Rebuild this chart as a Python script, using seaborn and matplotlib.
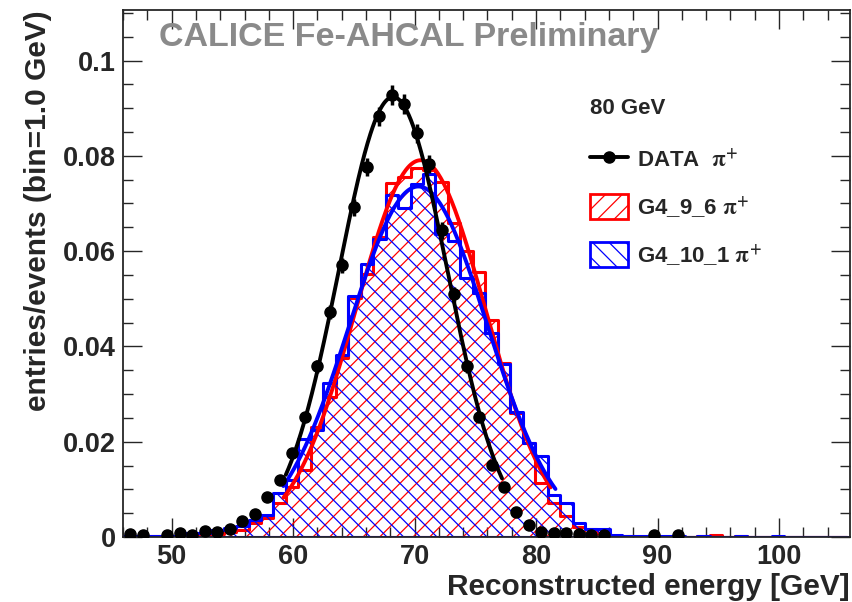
import numpy as np
import pandas as pd
import seaborn as sns
import matplotlib.pyplot as plt
from matplotlib.lines import Line2D
from matplotlib.patches import Patch
from matplotlib.ticker import MultipleLocator, FuncFormatter

# Histogram binning of the reconstructed energy (GeV)
first_edge = 46.07
bin_width = 1.026
n_bins = 58

# DATA pi+ at 80 GeV, fraction of events per bin (nan = empty bin)
data_frac = [0.0006, 0.0004, np.nan, 0.0004, 0.0008, 0.0004, 0.0013, 0.0010, 0.0017, 0.0034,
             0.0048, 0.0084, 0.0119, 0.0176, 0.0252, 0.0358, 0.0472, 0.0570, 0.0692, 0.0776,
             0.0883, 0.0927, 0.0908, 0.0847, 0.0783, 0.0644, 0.0509, 0.0358, 0.0252, 0.0151,
             0.0105, 0.0052, 0.0025, 0.0010, 0.0008, 0.0008, 0.0006, 0.0004, 0.0004, np.nan,
             np.nan, np.nan, 0.0004, np.nan, 0.0004]
data_err = [0.0002, 0.0002, np.nan, 0.0002, 0.0002, 0.0002, 0.0003, 0.0002, 0.0003, 0.0004,
            0.0005, 0.0006, 0.0008, 0.0009, 0.0011, 0.0013, 0.0015, 0.0016, 0.0018, 0.0019,
            0.0020, 0.0021, 0.0021, 0.0020, 0.0019, 0.0018, 0.0016, 0.0013, 0.0011, 0.0009,
            0.0007, 0.0005, 0.0003, 0.0002, 0.0002, 0.0002, 0.0002, 0.0002, 0.0002, np.nan,
            np.nan, np.nan, 0.0002, np.nan, 0.0002]

# Geant4 simulations
g4_9_6 = [0.0002, 0.0002, 0.0002, 0.0002, 0.0002, 0.0004, 0.0005, 0.0006, 0.0010, 0.0015,
          0.0029, 0.0040, 0.0071, 0.0105, 0.0140, 0.0231, 0.0294, 0.0375, 0.0501, 0.0551,
          0.0630, 0.0742, 0.0755, 0.0774, 0.0770, 0.0744, 0.0660, 0.0600, 0.0556, 0.0455,
          0.0365, 0.0260, 0.0197, 0.0113, 0.0072, 0.0044, 0.0021, 0.0017, 0.0008, 0.0002,
          0.0002, 0.0001, 0.0002, 0.0001, 0.0001, 0.0001, 0.0002, 0.0004, 0.0001, 0.0003,
          0.0001, 0.0001, 0.0001, 0.0001, 0.0001, 0.0001, 0.0001, 0.0001]
g4_10_1 = [0.0003, 0.0003, 0.0003, 0.0003, 0.0003, 0.0009, 0.0009, 0.0015, 0.0018, 0.0023,
           0.0035, 0.0046, 0.0092, 0.0119, 0.0205, 0.0224, 0.0323, 0.0382, 0.0505, 0.0573,
           0.0625, 0.0718, 0.0690, 0.0740, 0.0762, 0.0635, 0.0622, 0.0543, 0.0512, 0.0428,
           0.0362, 0.0262, 0.0197, 0.0170, 0.0088, 0.0071, 0.0030, 0.0017, 0.0016, 0.0004,
           0.0003, 0.0002, 0.0003, 0.0002, 0.0002, 0.0001, 0.0002, 0.0001, 0.0001, 0.0002,
           0.0001, 0.0001, 0.0003, 0.0001, 0.0001, 0.0001, 0.0001, 0.0001]

# Gaussian fit ranges (GeV)
data_fit_range = (59.4, 77.2)
g4_9_6_fit_range = (59.2, 81.2)
g4_10_1_fit_range = (59.2, 81.6)


def gaus_fit(x, y, lo, hi):
    # fit a gaussian through log(y) with a weighted parabola
    sel = (x >= lo) & (x <= hi) & (y > 0)
    a, b, c = np.polyfit(x[sel], np.log(y[sel]), 2, w=np.sqrt(y[sel]))
    xs = np.linspace(lo, hi, 300)
    return xs, np.exp(a * xs ** 2 + b * xs + c)


edges = first_edge + bin_width * np.arange(n_bins + 1)
centers = edges[:-1] + bin_width / 2

mc = pd.DataFrame({'energy': centers, 'g4_9_6': g4_9_6, 'g4_10_1': g4_10_1})
data = pd.DataFrame({'energy': centers[:len(data_frac)], 'frac': data_frac, 'err': data_err}).dropna()

sns.set_style('ticks')
plt.rcParams['font.family'] = ['Liberation Sans', 'DejaVu Sans']
plt.rcParams['font.weight'] = 'bold'
plt.rcParams['axes.labelweight'] = 'bold'
plt.rcParams['mathtext.fontset'] = 'stix'
plt.rcParams['hatch.linewidth'] = 0.9

fig = plt.figure(figsize=(8.52, 6.02), dpi=100)
ax = fig.add_axes([0.1444, 0.108, 0.8533, 0.8754])

hist_range = (first_edge, first_edge + n_bins * bin_width)
with plt.rc_context({'hatch.color': 'red'}):
    sns.histplot(data=mc, x='energy', weights='g4_9_6', binwidth=bin_width, binrange=hist_range,
                 element='step', fill=True, color='red', facecolor='none', edgecolor='red',
                 hatch='//', linewidth=2.2, ax=ax)
with plt.rc_context({'hatch.color': 'blue'}):
    sns.histplot(data=mc, x='energy', weights='g4_10_1', binwidth=bin_width, binrange=hist_range,
                 element='step', fill=True, color='blue', facecolor='none', edgecolor='blue',
                 hatch='\\\\', linewidth=2.2, ax=ax)

x = mc['energy'].to_numpy()
for col, rng, color in [('g4_9_6', g4_9_6_fit_range, 'red'), ('g4_10_1', g4_10_1_fit_range, 'blue')]:
    xs, ys = gaus_fit(x, mc[col].to_numpy(), *rng)
    sns.lineplot(x=xs, y=ys, color=color, linewidth=2.8, ax=ax)

xs, ys = gaus_fit(data['energy'].to_numpy(), data['frac'].to_numpy(), *data_fit_range)
sns.lineplot(x=xs, y=ys, color='black', linewidth=2.8, ax=ax, zorder=5)
ax.errorbar(data['energy'], data['frac'], yerr=data['err'], fmt='o', color='black',
            markersize=8, elinewidth=2.5, capsize=0, zorder=6)

ax.set_xlim(46.0, 105.85)
ax.set_ylim(0, 0.1106)
ax.xaxis.set_major_locator(MultipleLocator(10))
ax.xaxis.set_minor_locator(MultipleLocator(2))
ax.yaxis.set_major_locator(MultipleLocator(0.02))
ax.yaxis.set_minor_locator(MultipleLocator(0.005))
ax.yaxis.set_major_formatter(FuncFormatter(lambda v, p: '%g' % round(v, 4)))
ax.tick_params(which='both', direction='in', top=True, right=True, labelsize=19.5, width=1)
ax.tick_params(which='major', length=14, pad=5)
ax.tick_params(which='minor', length=7)
for s in ax.spines.values():
    s.set_linewidth(1.3)

ax.set_xlabel('Reconstructed energy [GeV]', fontsize=21.5, loc='right', labelpad=2)
ax.set_ylabel('entries/events (bin=1.0 GeV)', fontsize=21.5, loc='top', labelpad=8)

ax.text(0.05, 0.947, 'CALICE Fe-AHCAL Preliminary', transform=ax.transAxes, color='#8a8a8a',
        fontsize=24.5, fontweight='bold', va='center', ha='left')

handles = [
    Line2D([], [], color='black', marker='o', markersize=8, linewidth=2.8),
    Patch(facecolor='none', edgecolor='red', hatch='//', linewidth=2),
    Patch(facecolor='none', edgecolor='blue', hatch='\\\\', linewidth=2),
]
labels = [r'DATA  $\mathrm{\pi}^{+}$', r'G4_9_6 $\mathrm{\pi}^{+}$', r'G4_10_1 $\mathrm{\pi}^{+}$']
leg = ax.legend(handles, labels, title='80 GeV', loc='upper left', bbox_to_anchor=(0.63, 0.85),
                frameon=False, fontsize=16, title_fontproperties={'weight': 'bold', 'size': 16},
                alignment='left', labelspacing=1.0, handlelength=1.7, handleheight=1.35,
                handletextpad=0.4, borderaxespad=0)
leg._legend_box.sep = 20

fig.savefig('out.png', dpi=100)
